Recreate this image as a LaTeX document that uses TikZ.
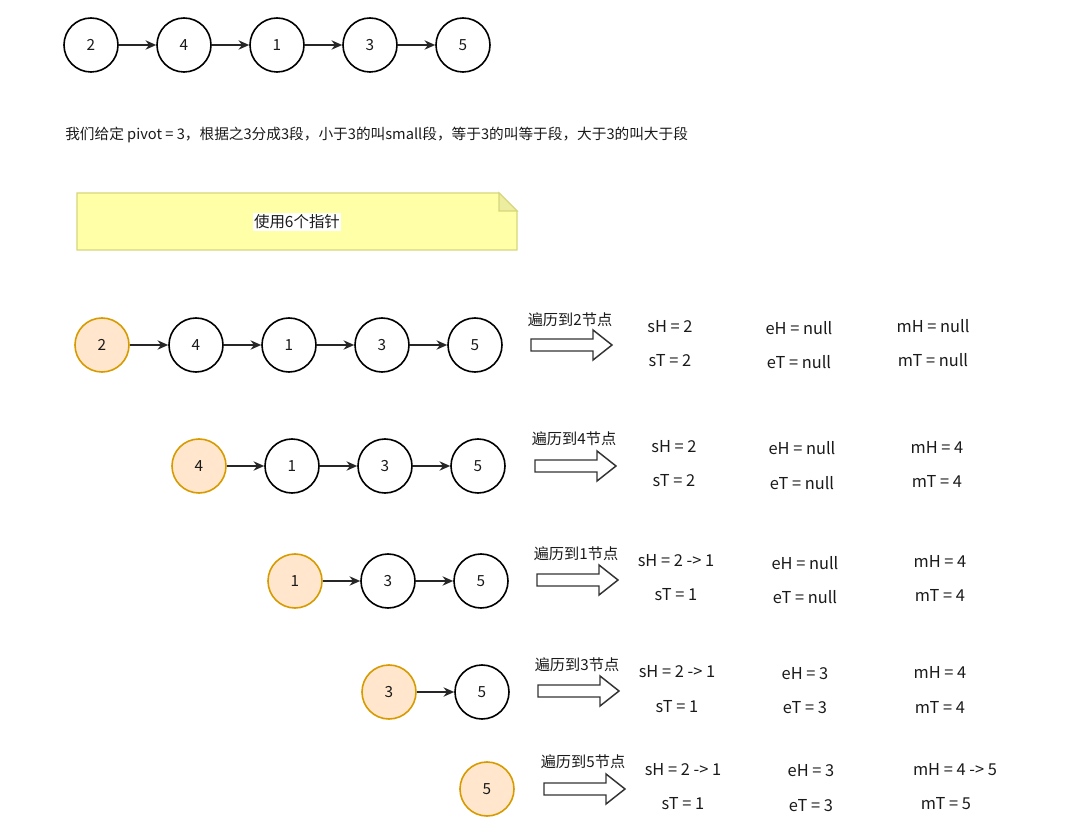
\documentclass[tikz,border=0pt]{standalone}
\usepackage{fontspec}
\setmainfont{Noto Sans CJK SC}
\usetikzlibrary{arrows.meta}
\definecolor{txt}{HTML}{1A1A1A}
\definecolor{orangefill}{HTML}{FFE6CC}
\definecolor{orangeline}{HTML}{D79B00}
\definecolor{notefill}{HTML}{FFFFA8}
\definecolor{noteline}{HTML}{D6D67A}
\definecolor{notefold}{HTML}{EDEDA0}
\tikzset{
  lnode/.style={circle, draw=black, fill=white, line width=1.2pt, minimum size=40.5pt, inner sep=0pt, font=\fontsize{11.5}{13}\selectfont, text=txt},
  cnode/.style={lnode, draw=orangeline, fill=orangefill},
  nxt/.style={-{Stealth[length=8pt,width=7pt]}, line width=1.1pt, draw=black!85},
  fat/.style={draw=black!80, fill=white, line width=1.1pt, line join=miter},
  lbl/.style={font=\fontsize{11.4}{13}\selectfont, text=txt, inner sep=0pt},
  info/.style={font=\fontsize{12.3}{14}\selectfont, text=txt, inner sep=0pt}
}
\begin{document}
\begin{tikzpicture}[x=0.75pt, y=-0.75pt]
\useasboundingbox (0,0) rectangle (1076,831);

% Original list
\node[lnode] (a2) at (91,45) {2};
\node[lnode] (a4) at (184,45) {4};
\node[lnode] (a1) at (277,45) {1};
\node[lnode] (a3) at (370,45) {3};
\node[lnode] (a5) at (463,45) {5};
\draw[nxt] (a2) -- (a4);
\draw[nxt] (a4) -- (a1);
\draw[nxt] (a1) -- (a3);
\draw[nxt] (a3) -- (a5);

% Description
\node[lbl, anchor=west, font=\fontsize{11}{13}\selectfont] (desc) at (65,135) {我们给定 pivot = 3，根据之3分成3段，小于3的叫small段，等于3的叫等于段，大于3的叫大于段};

% Note
\filldraw[fill=notefill, draw=noteline, line width=0.8pt] (77,193) -- (499,193) -- (517,211) -- (517,250) -- (77,250) -- cycle;
\filldraw[fill=notefold, draw=noteline, line width=0.8pt] (499,193) -- (499,211) -- (517,211) -- cycle;
\node[lbl, fill=white, inner sep=1pt, font=\fontsize{11.6}{13}\selectfont] (note) at (297,222) {使用6个指针};

% Step 1: node 2
\node[cnode] (b2) at (102,345) {2};
\node[lnode] (b4) at (196,345) {4};
\node[lnode] (b1) at (289,345) {1};
\node[lnode] (b3) at (382,345) {3};
\node[lnode] (b5) at (475,345) {5};
\draw[nxt] (b2) -- (b4);
\draw[nxt] (b4) -- (b1);
\draw[nxt] (b1) -- (b3);
\draw[nxt] (b3) -- (b5);
\node[lbl] (t1) at (570,320) {遍历到2节点};
\draw[fat, shift={(531,345)}] (0,-6) -- (62,-6) -- (62,-15) -- (81,0) -- (62,15) -- (62,6) -- (0,6) -- cycle;
\node[info] (sh1) at (670,327) {sH = 2};
\node[info] (st1) at (670,361) {sT = 2};
\node[info] (eh1) at (799,328) {eH = null};
\node[info] (et1) at (799,362) {eT = null};
\node[info] (mh1) at (933,326) {mH = null};
\node[info] (mt1) at (933,360) {mT = null};

% Step 2: node 4
\node[cnode] (c4) at (199,466) {4};
\node[lnode] (c1) at (292,466) {1};
\node[lnode] (c3) at (385,466) {3};
\node[lnode] (c5) at (478,466) {5};
\draw[nxt] (c4) -- (c1);
\draw[nxt] (c1) -- (c3);
\draw[nxt] (c3) -- (c5);
\node[lbl] (t2) at (574,439) {遍历到4节点};
\draw[fat, shift={(535,466)}] (0,-6) -- (62,-6) -- (62,-15) -- (81,0) -- (62,15) -- (62,6) -- (0,6) -- cycle;
\node[info] (sh2) at (674,447) {sH = 2};
\node[info] (st2) at (674,481) {sT = 2};
\node[info] (eh2) at (802,448) {eH = null};
\node[info] (et2) at (802,483) {eT = null};
\node[info] (mh2) at (937,447) {mH = 4};
\node[info] (mt2) at (937,481) {mT = 4};

% Step 3: node 1
\node[cnode] (d1) at (295,581) {1};
\node[lnode] (d3) at (388,581) {3};
\node[lnode] (d5) at (481,581) {5};
\draw[nxt] (d1) -- (d3);
\draw[nxt] (d3) -- (d5);
\node[lbl] (t3) at (576,554) {遍历到1节点};
\draw[fat, shift={(537,580)}] (0,-6) -- (62,-6) -- (62,-15) -- (81,0) -- (62,15) -- (62,6) -- (0,6) -- cycle;
\node[info] (sh3) at (676,561) {sH = 2 -> 1};
\node[info] (st3) at (676,595) {sT = 1};
\node[info] (eh3) at (805,563) {eH = null};
\node[info] (et3) at (805,597) {eT = null};
\node[info] (mh3) at (940,561) {mH = 4};
\node[info] (mt3) at (940,595) {mT = 4};

% Step 4: node 3
\node[cnode] (e3) at (389,692) {3};
\node[lnode] (e5) at (482,692) {5};
\draw[nxt] (e3) -- (e5);
\node[lbl] (t4) at (577,665) {遍历到3节点};
\draw[fat, shift={(538,691)}] (0,-6) -- (62,-6) -- (62,-15) -- (81,0) -- (62,15) -- (62,6) -- (0,6) -- cycle;
\node[info] (sh4) at (677,672) {sH = 2 -> 1};
\node[info] (st4) at (677,707) {sT = 1};
\node[info] (eh4) at (805,674) {eH = 3};
\node[info] (et4) at (805,708) {eT = 3};
\node[info] (mh4) at (940,672) {mH = 4};
\node[info] (mt4) at (940,707) {mT = 4};

% Step 5: node 5
\node[cnode] (f5) at (487,789) {5};
\node[lbl] (t5) at (583,762) {遍历到5节点};
\draw[fat, shift={(544,789)}] (0,-6) -- (62,-6) -- (62,-15) -- (81,0) -- (62,15) -- (62,6) -- (0,6) -- cycle;
\node[info] (sh5) at (683,770) {sH = 2 -> 1};
\node[info] (st5) at (683,804) {sT = 1};
\node[info] (eh5) at (811,771) {eH = 3};
\node[info] (et5) at (811,806) {eT = 3};
\node[info] (mh5) at (955,770) {mH = 4 -> 5};
\node[info] (mt5) at (946,804) {mT = 5};
\end{tikzpicture}
\end{document}
